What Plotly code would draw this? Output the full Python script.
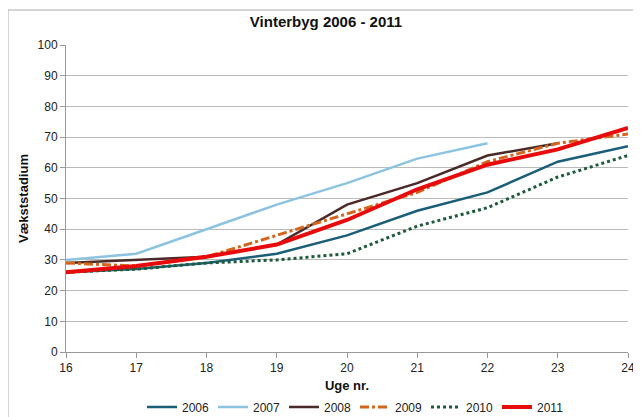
import plotly.graph_objects as go

weeks = [16, 17, 18, 19, 20, 21, 22, 23, 24]
v2006 = [26, 27, 29, 32, 38, 46, 52, 62, 67]
v2007 = [30, 32, 40, 48, 55, 63, 68, None, None]
v2008 = [29, 30, 31, 35, 48, 55, 64, 68, None]
v2009 = [29, 28, 31, 38, 45, 52, 62, 68, 71]
v2010 = [26, 27, 29, 30, 32, 41, 47, 57, 64]
v2011 = [26, 28, 31, 35, 43, 53, 61, 66, 73]
x_ticks = [16, 17, 18, 19, 20, 21, 22, 23, 24]
y_ticks = [0, 10, 20, 30, 40, 50, 60, 70, 80, 90, 100]

series = [
    ("2006", v2006, "#1B5E78", 2.5, "solid"),
    ("2007", v2007, "#8CC3E0", 2.5, "solid"),
    ("2008", v2008, "#4A2A28", 2.5, "solid"),
    ("2009", v2009, "#D2661E", 3, "dashdot"),
    ("2010", v2010, "#1E5A3C", 3, "dot"),
    ("2011", v2011, "#E80B0B", 4, "solid"),
]

fig = go.Figure()
for name, vals, color, width, dash in series:
    fig.add_trace(go.Scatter(
        x=weeks, y=vals, name=name, mode="lines",
        line=dict(color=color, width=width, dash=dash),
        connectgaps=False,
    ))

# the page body adds an 8px offset; layout is designed in figure coordinates
OFF = 8
W, H = 641 - OFF, 417 - OFF
L, T = 66 - OFF, 45 - OFF
PR, PB = 628 - OFF, 352 - OFF
R, B = W - PR, H - PB
pw, ph = PR - L, PB - T

fig.update_layout(
    width=W, height=H,
    paper_bgcolor="white", plot_bgcolor="white",
    margin=dict(l=L, r=R, t=T, b=B, autoexpand=False),
    font=dict(family="Liberation Sans, Arial, sans-serif", size=12, color="#222"),
    title=dict(text="<b>Vinterbyg 2006 - 2011</b>", xref="paper",
               x=(326 - OFF - L) / pw, xanchor="center", yref="container",
               y=1 - (22 - OFF) / H, yanchor="middle",
               font=dict(size=15, color="#111")),
    showlegend=True,
    legend=dict(orientation="h", x=(355 - OFF - L) / pw, xanchor="center",
                y=-(407 - OFF - PB) / ph, yanchor="middle",
                font=dict(size=12, color="#222"), entrywidth=26,
                entrywidthmode="pixels", tracegroupgap=0,
                bgcolor="rgba(0,0,0,0)"),
    shapes=[dict(type="rect", xref="paper", yref="paper",
                 x0=-(66 - 8) / pw, x1=1.2, y0=-0.5, y1=1 + (45 - 10) / ph,
                 line=dict(color="#AAAAAA", width=1), layer="below")],
)

fig.update_xaxes(
    range=[16, 24], tickvals=x_ticks, ticktext=[str(t) for t in x_ticks],
    showgrid=False, showline=True, linecolor="#999", linewidth=1,
    ticks="outside", ticklen=5, tickcolor="#999", automargin=False,
    title=dict(text="<b>Uge nr.</b>", font=dict(size=13, color="#111"), standoff=6),
    zeroline=False,
)
fig.update_yaxes(
    range=[0, 100], tickvals=y_ticks,
    showgrid=True, gridcolor="#BBBBBB", gridwidth=1,
    showline=True, linecolor="#999", linewidth=1,
    ticks="outside", ticklen=5, tickcolor="#999", automargin=False,
    title=dict(text="<b>Vækststadium</b>", font=dict(size=13, color="#111"), standoff=6),
    zeroline=False,
)

fig.write_html("out.html")
